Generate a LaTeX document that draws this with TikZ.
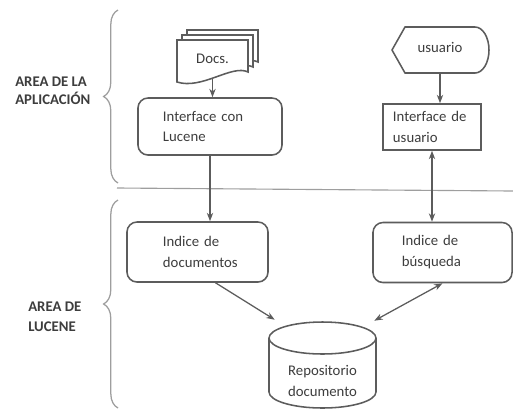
\documentclass[tikz,border=0pt]{standalone}
\usepackage{fontspec}
\setmainfont{Carlito}
\usepackage{xcolor}
\usepackage{tikz}
\usetikzlibrary{arrows.meta, positioning, decorations.pathreplacing}
\definecolor{linegray}{rgb}{0.36,0.36,0.36}
\definecolor{textgray}{rgb}{0.24,0.24,0.24}
\definecolor{rulegray}{rgb}{0.62,0.62,0.62}

\begin{document}
\begin{tikzpicture}[x=0.025cm, y=0.025cm,
    box/.style={rectangle, rounded corners=0.25cm, draw=linegray, line width=1.1pt, align=left, inner ysep=0pt, text=textgray, font=\fontsize{10.5}{14.9}\selectfont},
    plain/.style={inner sep=0pt, align=center, text=textgray, font=\fontsize{10.5}{14.9}\selectfont},
    outline/.style={draw=linegray, line width=1.1pt},
    tag/.style={inner sep=0pt, align=left, anchor=west, text=textgray, font=\bfseries\fontsize{10.5}{12.8}\selectfont},
    arrow/.style={-{Stealth[length=6pt, width=4.5pt]}, draw=linegray, line width=0.9pt},
    twoway/.style={{Stealth[length=6pt, width=4.5pt]}-{Stealth[length=6pt, width=4.5pt]}, draw=linegray, line width=0.9pt},
    curly/.style={decorate, decoration={brace, amplitude=0.36cm}, draw=rulegray, line width=0.9pt}
]
\useasboundingbox (0,0) rectangle (513,-410);

% areas
\node[tag] (areaapp) at (15,-91) {AREA DE LA\\APLICACIÓN};
\node[tag, font=\bfseries\fontsize{10.5}{14.2}\selectfont] (arealuc) at (28,-317) {AREA DE\\LUCENE};
\draw[curly] (118,-183) -- (118,-10);
\draw[curly] (118,-408) -- (118,-200);
\draw[rulegray, line width=0.8pt] (117,-188) -- (513,-191);

% documents
\foreach \d in {10,5,0}
  \draw[outline, fill=white, shift={(\d,\d)}] (177,-40) -- (248,-40) -- (248,-72) .. controls (232,-64) and (202,-90) .. (177,-82) -- cycle;
\node[plain, minimum width=1.775cm, minimum height=0.95cm] (docs) at (212.5,-59) {Docs.};

% usuario
\draw[outline] (392,-50) -- (405,-27) -- (475,-27) arc[start angle=90, end angle=-90, x radius=14, y radius=23] -- (405,-73) -- cycle;
\node[plain, minimum width=2.4cm, minimum height=1.3cm] (usuario) at (440,-47) {usuario};

% boxes
\node[box, minimum height=1.425cm, text width=2.35cm, inner xsep=0.625cm] (lucene) at (210,-126.5) {Interface con\\Lucene};
\node[box, sharp corners, minimum height=1.15cm, text width=1.95cm, inner xsep=0.25cm] (ifuser) at (432,-127) {Interface de\\usuario};
\node[box, minimum height=1.5cm, text width=1.725cm, inner xsep=0.9cm] (idxdoc) at (197.5,-252) {Indice de\\\mbox{documentos}};
\node[box, minimum height=1.5cm, text width=2.025cm, inner xsep=0.725cm] (idxbus) at (442.5,-252.5) {Indice de\\búsqueda};

% repository
\node[plain, minimum width=2.675cm, minimum height=1.35cm] (repo) at (322.5,-381) {Repositorio\\documento};
\draw[outline] (322.5,-338) ellipse [x radius=53.5, y radius=16];
\draw[outline] (269,-338) -- (269,-392) arc[start angle=180, end angle=360, x radius=53.5, y radius=16] -- (376,-338);

% connectors
\draw[arrow] (docs.south) -- (docs.south |- lucene.north);
\draw[arrow] (usuario.south) -- (usuario.south |- ifuser.north);
\draw[arrow] (lucene.south) -- (lucene.south |- idxdoc.north);
\draw[twoway] (ifuser.south) -- (ifuser.south |- idxbus.north);
\draw[arrow] ([xshift=0.45cm]idxdoc.south) -- ([xshift=0.15cm, yshift=0.85cm]repo.north west);
\draw[twoway] (idxbus.south) -- ([xshift=-0.05cm, yshift=0.825cm]repo.north east);

\end{tikzpicture}
\end{document}
